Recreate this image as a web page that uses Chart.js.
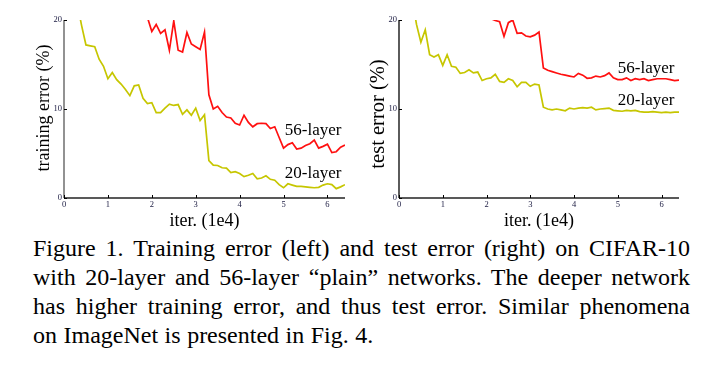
<!DOCTYPE html>
<html>
<head>
<meta charset="utf-8">
<script src="https://cdn.jsdelivr.net/npm/chart.js@4.4.1/dist/chart.umd.min.js"></script>
<style>
  html,body{margin:0;padding:0;background:#fff;}
  body{width:711px;height:376px;overflow:hidden;position:relative;font-family:"Liberation Serif","Times New Roman",serif;}
  #c1{position:absolute;left:0;top:0;}
  #c2{position:absolute;left:360px;top:0;}
  #cap{position:absolute;left:33px;top:234px;width:657px;font-size:24px;line-height:29px;color:#000;}
  #cap .j{text-align:justify;text-align-last:justify;word-spacing:-3px;}
  #cap .l{word-spacing:0.5px;}
</style>
</head>
<body>
<canvas id="c1" width="360" height="232"></canvas>
<canvas id="c2" width="351" height="232"></canvas>
<div id="cap">
  <div class="j">Figure 1. Training error (left) and test error (right) on CIFAR-10</div>
  <div class="j">with 20-layer and 56-layer “plain” networks. The deeper network</div>
  <div class="j">has higher training error, and thus test error. Similar phenomena</div>
  <div class="l">on ImageNet is presented in Fig. 4.</div>
</div>
<script>
// ---- data (iterations in units of 1e4, error in %) ----
const trainIters20 = [0.3,0.4,0.5,0.6,0.7,0.8,0.9,1.0,1.1,1.2,1.3,1.4,1.5,1.6,1.7,1.8,1.9,2.0,2.1,2.2,2.3,2.4,2.5,2.6,2.7,2.8,2.9,3.0,3.1,3.2,3.3,3.4,3.5,3.6,3.7,3.8,3.9,4.0,4.1,4.2,4.3,4.4,4.5,4.6,4.7,4.8,4.9,5.0,5.1,5.2,5.3,5.4,5.5,5.6,5.7,5.8,5.9,6.0,6.1,6.2,6.3,6.4];
const trainErr20   = [21.9,19.4,17.2,17.1,17.0,15.6,14.8,13.4,14.1,13.3,12.8,12.2,11.5,12.6,12.7,11.2,10.6,10.7,9.6,9.6,10.1,10.55,10.4,10.5,9.4,9.9,9.3,10.1,8.7,9.35,4.2,3.7,3.65,3.4,3.35,2.85,2.95,2.75,2.4,2.55,2.75,2.15,2.25,2.5,2.1,2.0,1.5,1.15,1.6,1.45,1.3,1.3,1.25,1.2,1.15,1.2,1.45,1.6,1.5,1.05,1.25,1.5];
const trainIters56 = [1.9,2.0,2.1,2.2,2.3,2.4,2.5,2.6,2.7,2.8,2.9,3.0,3.1,3.2,3.3,3.4,3.5,3.6,3.7,3.8,3.9,4.0,4.1,4.2,4.3,4.4,4.5,4.6,4.7,4.8,4.9,5.0,5.1,5.2,5.3,5.4,5.5,5.6,5.7,5.8,5.9,6.0,6.1,6.2,6.3,6.4];
const trainErr56   = [20.3,18.7,19.5,18.5,18.9,16.6,19.9,16.6,16.4,18.6,17.3,17.0,16.7,18.65,11.6,10.0,10.3,9.6,9.1,9.0,8.4,8.2,9.3,8.5,8.0,8.35,8.4,8.35,7.8,8.0,6.8,5.6,6.0,6.2,5.5,5.6,5.9,6.1,6.5,5.6,5.8,6.05,5.1,5.2,5.7,5.95];
const testIters20  = [0.3,0.4,0.5,0.6,0.7,0.8,0.9,1.0,1.1,1.2,1.3,1.4,1.5,1.6,1.7,1.8,1.9,2.0,2.1,2.2,2.3,2.4,2.5,2.6,2.7,2.8,2.9,3.0,3.1,3.2,3.3,3.4,3.5,3.6,3.7,3.8,3.9,4.0,4.1,4.2,4.3,4.4,4.5,4.6,4.7,4.8,4.9,5.0,5.1,5.2,5.3,5.4,5.5,5.6,5.7,5.8,5.9,6.0,6.1,6.2,6.3,6.4];
const testErr20    = [22.5,19.5,17.5,18.9,16.1,15.85,16.1,14.9,16.1,14.8,14.7,14.0,14.1,14.4,14.05,14.15,13.2,13.4,13.5,13.9,13.1,13.0,13.4,13.2,12.5,13.0,13.0,12.55,12.8,12.7,10.2,10.0,9.9,10.0,9.9,9.8,10.1,10.0,10.1,10.15,10.1,10.2,9.9,10.0,10.05,10.1,9.85,9.8,9.75,9.85,9.8,9.85,9.7,9.65,9.65,9.7,9.65,9.6,9.65,9.6,9.65,9.65];
const testIters56  = [2.1,2.2,2.3,2.4,2.5,2.6,2.7,2.8,2.9,3.0,3.1,3.2,3.3,3.4,3.5,3.6,3.7,3.8,3.9,4.0,4.1,4.2,4.3,4.4,4.5,4.6,4.7,4.8,4.9,5.0,5.1,5.2,5.3,5.4,5.5,5.6,5.7,5.8,5.9,6.0,6.1,6.2,6.3,6.4];
const testErr56    = [20.15,19.95,19.8,18.15,19.7,20.0,18.5,18.55,18.2,18.1,18.3,18.65,14.6,14.35,14.2,14.05,13.9,13.8,13.7,13.6,14.0,13.8,13.45,13.5,13.7,13.6,13.75,14.05,13.5,13.3,13.3,13.5,13.2,13.4,13.3,13.4,13.2,13.3,13.4,13.4,13.4,13.3,13.2,13.25];

const xTickValues = [0,1,2,3,4,5,6];
const yTickValues = [0,10,20];
const xAxisTitle = 'iter. (1e4)';
const seriesNames = ['20-layer','56-layer'];

const RED = '#ff1010';
const YEL = '#c6c600';
const SERIF = '"Liberation Serif","Times New Roman",serif';

function pts(xs, ys){ return xs.map((x,i)=>({x:x, y:ys[i]})); }

const paperAxes = {
  id:'paperAxes',
  afterDraw(chart, args, o){
    const ctx = chart.ctx, a = chart.chartArea, x = chart.scales.x, y = chart.scales.y;
    ctx.save();
    // axis lines
    ctx.strokeStyle = o.yAxisColor || '#333'; ctx.lineWidth = 1.6;
    ctx.beginPath();
    ctx.moveTo(a.left, y.getPixelForValue(20));
    ctx.lineTo(a.left, a.bottom);
    ctx.stroke();
    ctx.strokeStyle = '#222'; ctx.lineWidth = 1.5;
    ctx.beginPath();
    ctx.moveTo(a.left, a.bottom);
    ctx.lineTo(a.right, a.bottom);
    ctx.stroke();
    // inward ticks
    ctx.lineWidth = 1; ctx.strokeStyle = '#000';
    ctx.beginPath();
    yTickValues.forEach(v=>{ const py = Math.round(y.getPixelForValue(v))+0.5; ctx.moveTo(a.left, py); ctx.lineTo(a.left+3, py); });
    xTickValues.forEach(v=>{ const px = Math.round(x.getPixelForValue(v))+0.5; ctx.moveTo(px, a.bottom); ctx.lineTo(px, a.bottom-3); });
    ctx.stroke();
    // tick labels
    ctx.fillStyle = '#1a1a40';
    ctx.font = '8.5px ' + SERIF;
    ctx.textAlign = 'right'; ctx.textBaseline = 'middle';
    yTickValues.forEach(v=>{ ctx.fillText(String(v), a.left-2, y.getPixelForValue(v)); });
    ctx.textAlign = 'center'; ctx.textBaseline = 'middle';
    xTickValues.forEach(v=>{ ctx.fillText(String(v), x.getPixelForValue(v), a.bottom+7); });
    // axis titles
    ctx.fillStyle = '#000';
    ctx.font = '18px ' + SERIF;
    ctx.textAlign = 'center'; ctx.textBaseline = 'middle';
    ctx.fillText(xAxisTitle, (a.left+a.right)/2, a.bottom+23);
    ctx.save();
    ctx.font = (o.yTitleSize||18) + 'px ' + SERIF;
    ctx.translate(a.left-20, (a.top+a.bottom)/2 + (o.yTitleShift||0));
    ctx.rotate(-Math.PI/2);
    ctx.fillText(o.yTitle, 0, 0);
    ctx.restore();
    // series labels
    ctx.font = '17px ' + SERIF;
    ctx.textAlign = 'left'; ctx.textBaseline = 'middle';
    (o.labels||[]).forEach(l=>{ ctx.fillText(l.text, x.getPixelForValue(l.x), y.getPixelForValue(l.y)); });
    ctx.restore();
  }
};

function makeChart(id, pad, d20, d56, opts){
  return new Chart(document.getElementById(id), {
    type:'line',
    data:{ datasets:[
      { label:seriesNames[1], data:d56, borderColor:RED, borderWidth:1.7, pointRadius:0, tension:0, fill:false },
      { label:seriesNames[0], data:d20, borderColor:YEL, borderWidth:1.7, pointRadius:0, tension:0, fill:false }
    ]},
    options:{
      responsive:false, animation:false, devicePixelRatio:1,
      layout:{ padding:pad },
      scales:{
        x:{ type:'linear', min:0, max:6.4, display:false },
        y:{ type:'linear', min:0, max:20, display:false }
      },
      plugins:{ legend:{display:false}, tooltip:{enabled:false}, paperAxes:opts }
    },
    plugins:[paperAxes]
  });
}

makeChart('c1', {left:64, top:20, right:15, bottom:34},
  pts(trainIters20, trainErr20), pts(trainIters56, trainErr56),
  { yTitle:'training error (%)', yTitleShift:-1, yTitleSize:18, yAxisColor:'#777',
    labels:[{text:seriesNames[1], x:5.03, y:7.6},{text:seriesNames[0], x:5.03, y:2.75}] });

makeChart('c2', {left:39, top:20, right:32, bottom:34},
  pts(testIters20, testErr20), pts(testIters56, testErr56),
  { yTitle:'test error (%)', yTitleShift:5, yTitleSize:20.5, yAxisColor:'#333',
    labels:[{text:seriesNames[1], x:5.0, y:14.6},{text:seriesNames[0], x:5.0, y:11.0}] });
</script>
</body>
</html>
